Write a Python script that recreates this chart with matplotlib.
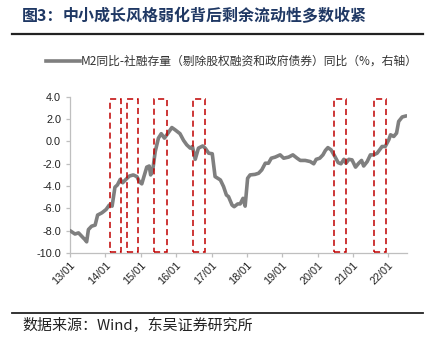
import numpy as np
import pandas as pd
import matplotlib
matplotlib.use('Agg')
import matplotlib.pyplot as plt
import matplotlib.dates as mdates
from matplotlib.patches import Rectangle
from matplotlib.lines import Line2D

plt.rcParams['font.family'] = ['Liberation Sans', 'Noto Sans CJK SC', 'DejaVu Sans']

# decimal-year positions, with the series value (%)
years = [2013.00, 2013.14, 2013.24, 2013.33, 2013.42, 2013.47, 2013.52, 2013.61,
         2013.71, 2013.78, 2013.90, 2014.02, 2014.11, 2014.19, 2014.27, 2014.34,
         2014.42, 2014.49, 2014.58, 2014.68, 2014.79, 2014.89, 2014.96, 2015.03,
         2015.09, 2015.17, 2015.24, 2015.28, 2015.34, 2015.41, 2015.50, 2015.58,
         2015.67, 2015.76, 2015.88, 2015.97, 2016.11, 2016.21, 2016.30, 2016.40,
         2016.46, 2016.54, 2016.63, 2016.75, 2016.82, 2016.92, 2017.02, 2017.10,
         2017.25, 2017.34, 2017.42, 2017.48, 2017.58, 2017.64, 2017.74, 2017.81,
         2017.89, 2017.95, 2018.02, 2018.09, 2018.23, 2018.33, 2018.42, 2018.52,
         2018.61, 2018.69, 2018.80, 2018.94, 2019.04, 2019.18, 2019.30, 2019.42,
         2019.51, 2019.65, 2019.79, 2019.89, 2019.96, 2020.06, 2020.15, 2020.22,
         2020.29, 2020.38, 2020.48, 2020.58, 2020.66, 2020.74, 2020.80, 2020.88,
         2020.97, 2021.07, 2021.16, 2021.24, 2021.30, 2021.40, 2021.49, 2021.58,
         2021.68, 2021.82, 2021.91, 2022.01, 2022.06, 2022.15, 2022.23, 2022.29,
         2022.39, 2022.51]
values = [-8.0, -8.3, -8.2, -8.5, -8.8, -9.0, -7.9, -7.6,
          -7.5, -6.6, -6.4, -6.1, -5.7, -5.8, -4.1, -3.9,
          -3.4, -3.7, -3.4, -3.1, -3.0, -3.15, -3.6, -3.8,
          -3.15, -2.3, -2.2, -3.0, -2.55, -0.9, 0.3, 0.7,
          0.3, 0.7, 1.25, 1.05, 0.7, 0.1, -0.3, -0.6,
          -0.45, -1.6, -0.6, -0.4, -0.6, -1.05, -1.1, -3.15,
          -3.45, -4.05, -4.8, -4.95, -5.7, -5.85, -5.6, -5.6,
          -5.1, -5.8, -3.3, -3.0, -2.95, -2.85, -2.55, -1.95,
          -1.95, -1.5, -1.4, -1.2, -1.5, -1.4, -1.2, -1.5,
          -1.7, -1.7, -1.8, -2.0, -1.6, -1.5, -1.2, -0.8,
          -0.55, -0.75, -1.3, -1.9, -2.0, -1.6, -1.95, -1.6,
          -1.65, -2.3, -1.95, -1.7, -2.2, -1.8, -1.2, -1.2,
          -1.05, -0.45, -0.45, 0.15, 0.6, 0.45, 0.75, 1.8,
          2.2, 2.3]

# highlighted periods (start, end) in decimal years
periods = [(2014.13, 2014.44), (2014.60, 2014.91), (2015.38, 2015.74),
           (2016.47, 2016.82), (2020.47, 2020.81), (2021.58, 2021.93)]

yticks = [4.0, 2.0, 0.0, -2.0, -4.0, -6.0, -8.0, -10.0]
xtick_labels = ['13/01', '14/01', '15/01', '16/01', '17/01',
                '18/01', '19/01', '20/01', '21/01', '22/01']

title_head = '图3：'
title_body = '中小成长风格弱化背后剩余流动性多数收紧'
legend_label = 'M2同比-社融存量（剔除股权融资和政府债券）同比（%，右轴）'
source = '数据来源：Wind，东吴证券研究所'


def to_date(y):
    yr = int(np.floor(y))
    start = pd.Timestamp(year=yr, month=1, day=1)
    end = pd.Timestamp(year=yr + 1, month=1, day=1)
    return start + (end - start) * (y - yr)


dates = [to_date(y) for y in years]

fig = plt.figure(figsize=(4.35, 3.4), dpi=100)
ax = fig.add_axes([0.161, 0.256, 0.775, 0.459])

ax.plot(dates, values, color='#7f7f7f', linewidth=2.6, solid_capstyle='round',
        solid_joinstyle='round', zorder=3)

for a, b in periods:
    x0 = mdates.date2num(to_date(a))
    x1 = mdates.date2num(to_date(b))
    ax.add_patch(Rectangle((x0, -9.95), x1 - x0, 13.8, fill=False,
                           edgecolor='#c00000', linestyle=(0, (4, 2.5)),
                           linewidth=1.1, zorder=4, clip_on=False))

ax.set_ylim(-10, 4)
ax.set_yticks(yticks)
ax.set_yticklabels(['%.1f' % v for v in yticks])
ax.set_xlim(mdates.date2num(to_date(2013.0)), mdates.date2num(to_date(2022.53)))
ax.set_xticks([mdates.date2num(pd.Timestamp(year=2013 + i, month=1, day=1))
               for i in range(len(xtick_labels))])
ax.set_xticklabels(xtick_labels, rotation=45, ha='right', rotation_mode='anchor')

for s in ['top', 'right']:
    ax.spines[s].set_visible(False)
for s in ['left', 'bottom']:
    ax.spines[s].set_color('#bfbfbf')
    ax.spines[s].set_linewidth(0.9)
ax.tick_params(axis='both', colors='#bfbfbf', length=3, width=0.9,
               labelsize=7.8, labelcolor='#222222')
ax.tick_params(axis='x', pad=2)

# title and rules
fig.text(22 / 435, 1 - 16 / 340, title_head, fontsize=11.5, fontweight='bold',
         color='#1f3864', family=['Noto Sans CJK SC'], va='center', ha='left')
fig.text(63 / 435, 1 - 16 / 340, title_body, fontsize=11.5, fontweight='bold',
         color='#1f3864', family=['Noto Sans CJK SC'], va='center', ha='left')
fig.add_artist(Line2D([12 / 435, 423 / 435], [1 - 33.5 / 340] * 2,
                      color='#222222', linewidth=1.6, transform=fig.transFigure))
fig.add_artist(Line2D([12 / 435, 423 / 435], [1 - 312.5 / 340] * 2,
                      color='#222222', linewidth=1.3, transform=fig.transFigure))
fig.text(22 / 435, 1 - 325 / 340, source, fontsize=10.8, color='#222222',
         family=['Noto Sans CJK SC'], va='center', ha='left')

# legend
fig.add_artist(Line2D([46 / 435, 80 / 435], [1 - 61 / 340] * 2,
                      color='#7f7f7f', linewidth=2.6, transform=fig.transFigure))
fig.text(81 / 435, 1 - 61 / 340, legend_label, fontsize=8.5, color='#333333',
         family=['Noto Sans CJK SC'], va='center', ha='left')

fig.savefig('out.png', dpi=100)
